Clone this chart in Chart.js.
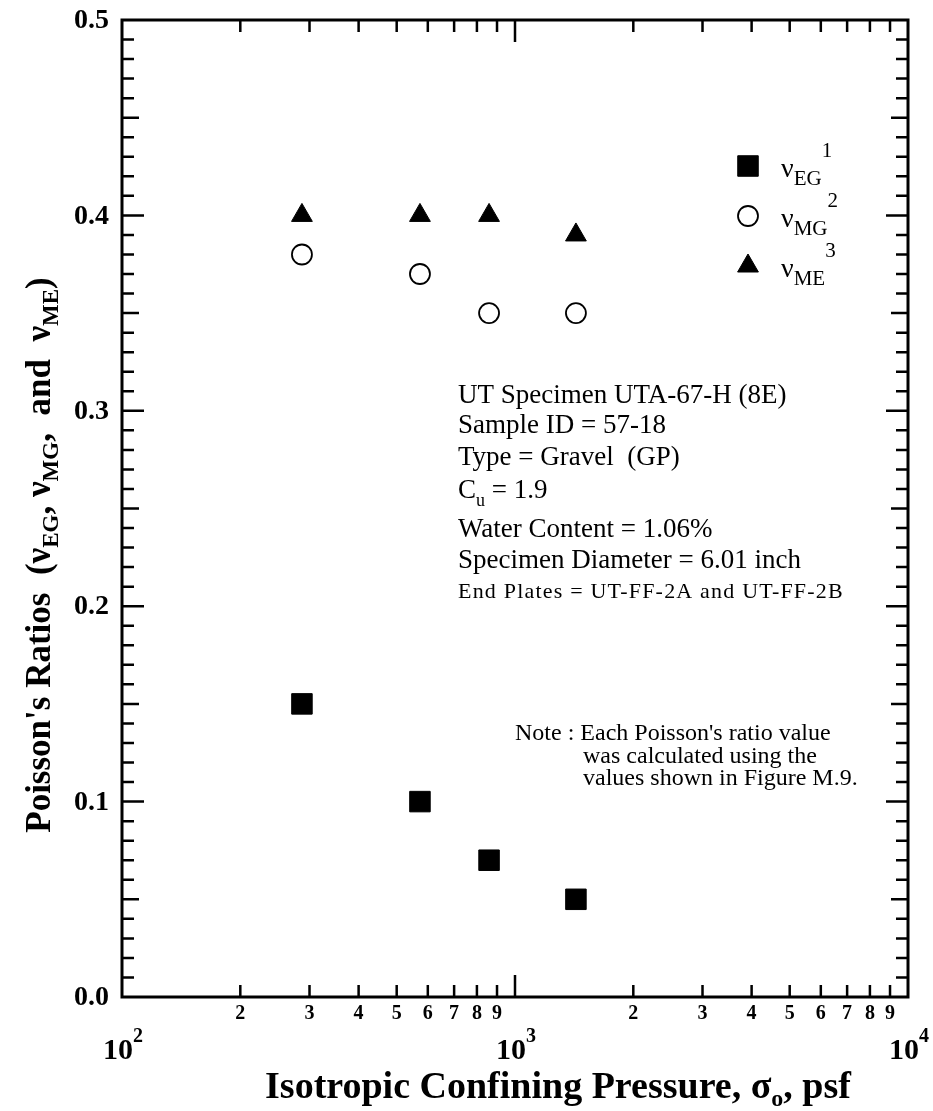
<!DOCTYPE html>
<html>
<head>
<meta charset="UTF-8">
<title>Poisson's Ratios vs Isotropic Confining Pressure</title>
<script src="https://cdn.jsdelivr.net/npm/chart.js"></script>
<style>
  body { margin: 0; background: #fff; }
  .wrap { width: 933px; height: 1111px; }
</style>
</head>
<body>
<div class="wrap"><canvas id="chart" width="933" height="1111"></canvas></div>
<script>
  // data
  const pressure = [287, 573, 859, 1429];     // psf
  const nuEG = [0.15, 0.10, 0.07, 0.05];
  const nuMG = [0.38, 0.37, 0.35, 0.35];
  const nuME = [0.40, 0.40, 0.40, 0.39];

  const yTicks = [0.0, 0.1, 0.2, 0.3, 0.4, 0.5];
  const xMinor = [2, 3, 4, 5, 6, 7, 8, 9];
  const xDecades = [100, 1000, 10000];
  const decadeExp = ['2', '3', '4'];

  const specLines = [
    'UT Specimen UTA-67-H (8E)',
    'Sample ID = 57-18',
    'Type = Gravel  (GP)',
    'C_u = 1.9',
    'Water Content = 1.06%',
    'Specimen Diameter = 6.01 inch',
    'End Plates = UT-FF-2A and UT-FF-2B'
  ];
  const noteLines = [
    'Note : Each Poisson\'s ratio value',
    'was calculated using the',
    'values shown in Figure M.9.'
  ];

  const SERIF = '"Liberation Serif", "DejaVu Serif", serif';

  function pts(ys) {
    return pressure.map((p, i) => ({ x: p, y: ys[i] }));
  }

  // text runs with sub/superscripts; each part: [text, size, dy, bold]
  function richWidth(ctx, parts) {
    let w = 0;
    parts.forEach(p => {
      ctx.font = (p[3] ? 'bold ' : '') + p[1] + 'px ' + SERIF;
      w += ctx.measureText(p[0]).width;
    });
    return w;
  }
  function drawRich(ctx, parts, x, y, align) {
    let cx = x;
    if (align === 'center') cx = x - richWidth(ctx, parts) / 2;
    ctx.textAlign = 'left';
    ctx.textBaseline = 'alphabetic';
    parts.forEach(p => {
      ctx.font = (p[3] ? 'bold ' : '') + p[1] + 'px ' + SERIF;
      ctx.fillText(p[0], cx, y + p[2]);
      cx += ctx.measureText(p[0]).width;
    });
  }

  const markerEG = { pointStyle: 'rect', radius: 14.5, rotation: 0, borderWidth: 1, fill: '#000', stroke: '#000' };
  const markerMG = { pointStyle: 'circle', radius: 10, rotation: 0, borderWidth: 1.8, fill: '#fff', stroke: '#000' };
  const markerME = { pointStyle: 'triangle', radius: 12, rotation: 0, borderWidth: 1, fill: '#000', stroke: '#000' };

  const framePlugin = {
    id: 'frame',
    afterDraw(chart) {
      const ctx = chart.ctx;
      const a = chart.chartArea;
      const xs = chart.scales.x;
      const ys = chart.scales.y;
      ctx.save();
      ctx.strokeStyle = '#000';
      ctx.fillStyle = '#000';

      // frame
      ctx.lineWidth = 3;
      ctx.strokeRect(a.left, a.top, a.right - a.left, a.bottom - a.top);

      // y ticks, inward on both sides
      ctx.lineWidth = 2.5;
      for (let i = 1; i < 50; i++) {
        const py = ys.getPixelForValue(i / 100);
        const len = i % 10 === 0 ? 22 : (i % 5 === 0 ? 17 : 12);
        ctx.beginPath();
        ctx.moveTo(a.left, py); ctx.lineTo(a.left + len, py);
        ctx.moveTo(a.right, py); ctx.lineTo(a.right - len, py);
        ctx.stroke();
      }
      // x ticks, inward on bottom and top
      [100, 1000].forEach(d => {
        for (let k = 1; k <= 9; k++) {
          if (d === 100 && k === 1) continue;
          const px = xs.getPixelForValue(k * d);
          const len = k === 1 ? 22 : 12;
          ctx.beginPath();
          ctx.moveTo(px, a.bottom); ctx.lineTo(px, a.bottom - len);
          ctx.moveTo(px, a.top); ctx.lineTo(px, a.top + len);
          ctx.stroke();
        }
      });

      // y tick labels
      ctx.font = 'bold 28px ' + SERIF;
      ctx.textAlign = 'right';
      ctx.textBaseline = 'middle';
      yTicks.forEach(v => {
        ctx.fillText(v.toFixed(1), a.left - 13, ys.getPixelForValue(v) + 1);
      });

      // x minor labels
      ctx.font = 'bold 20px ' + SERIF;
      ctx.textAlign = 'center';
      [100, 1000].forEach(d => {
        xMinor.forEach(k => {
          ctx.fillText(String(k), xs.getPixelForValue(k * d), a.bottom + 17);
        });
      });
      // decade labels 10^n
      xDecades.forEach((d, i) => {
        const px = xs.getPixelForValue(d);
        ctx.font = 'bold 30px ' + SERIF;
        const w = ctx.measureText('10').width;
        drawRich(ctx, [['10', 30, 0, true], [decadeExp[i], 20, -17, true]], px - 4 - w / 2, a.bottom + 62, 'left');
      });

      // x title
      drawRich(ctx, [
        ['Isotropic Confining Pressure, \u03c3', 38, 0, true],
        ['o', 24, 8, true],
        [', psf', 38, 0, true]
      ], 558, a.bottom + 101, 'center');

      // y title, rotated
      ctx.save();
      ctx.translate(50, 555);
      ctx.rotate(-Math.PI / 2);
      drawRich(ctx, [
        ['Poisson\'s Ratios  (\u03bd', 35, 0, true],
        ['EG', 23, 8, true],
        [', \u03bd', 35, 0, true],
        ['MG', 23, 8, true],
        [',  and  \u03bd', 35, 0, true],
        ['ME', 23, 8, true],
        [')', 35, 0, true]
      ], 0, 0, 'center');
      ctx.restore();

      // legend
      const legendRows = [
        [markerEG, 'EG', '1'],
        [markerMG, 'MG', '2'],
        [markerME, 'ME', '3']
      ];
      legendRows.forEach((r, i) => {
        const my = 166 + i * 50;
        const m = r[0];
        ctx.fillStyle = m.fill;
        ctx.strokeStyle = m.stroke;
        ctx.lineWidth = m.borderWidth;
        Chart.helpers.drawPoint(ctx, m, 748, my);
        ctx.fillStyle = '#000';
        drawRich(ctx, [['\u03bd', 28, 0, false], [r[1], 21, 8, false], [r[2], 21, -20, false]], 781, my + 11, 'left');
      });

      // specimen info
      ctx.fillStyle = '#000';
      specLines.forEach((t, i) => {
        const base = [403, 433, 465, 498, 537, 568, 598][i];
        if (t.startsWith('C_u')) {
          drawRich(ctx, [['C', 27, 0, false], ['u', 18, 8, false], [' = 1.9', 27, 0, false]], 458, base, 'left');
        } else if (i === 6) {
          ctx.letterSpacing = '1.2px';
          drawRich(ctx, [[t, 22, 0, false]], 458, base, 'left');
          ctx.letterSpacing = '0px';
        } else {
          drawRich(ctx, [[t, 27, 0, false]], 458, base, 'left');
        }
      });

      // note
      noteLines.forEach((t, i) => {
        drawRich(ctx, [[t, 24, 0, false]], i === 0 ? 515 : 583, 740 + i * 22.5, 'left');
      });

      ctx.restore();
    }
  };

  new Chart(document.getElementById('chart').getContext('2d'), {
    type: 'scatter',
    data: {
      datasets: [
        {
          label: 'vEG', data: pts(nuEG),
          pointStyle: markerEG.pointStyle, pointRadius: markerEG.radius,
          backgroundColor: markerEG.fill, borderColor: markerEG.stroke, borderWidth: markerEG.borderWidth
        },
        {
          label: 'vMG', data: pts(nuMG),
          pointStyle: markerMG.pointStyle, pointRadius: markerMG.radius,
          backgroundColor: markerMG.fill, borderColor: markerMG.stroke, borderWidth: markerMG.borderWidth
        },
        {
          label: 'vME', data: pts(nuME),
          pointStyle: markerME.pointStyle, pointRadius: markerME.radius,
          backgroundColor: markerME.fill, borderColor: markerME.stroke, borderWidth: markerME.borderWidth
        }
      ]
    },
    options: {
      responsive: false,
      animation: false,
      layout: { padding: { left: 122, right: 25, top: 20, bottom: 114 } },
      scales: {
        x: { type: 'logarithmic', min: 100, max: 10000, display: false },
        y: { type: 'linear', min: 0, max: 0.5, display: false }
      },
      plugins: {
        legend: { display: false },
        tooltip: { enabled: false }
      }
    },
    plugins: [framePlugin]
  });
</script>
</body>
</html>
